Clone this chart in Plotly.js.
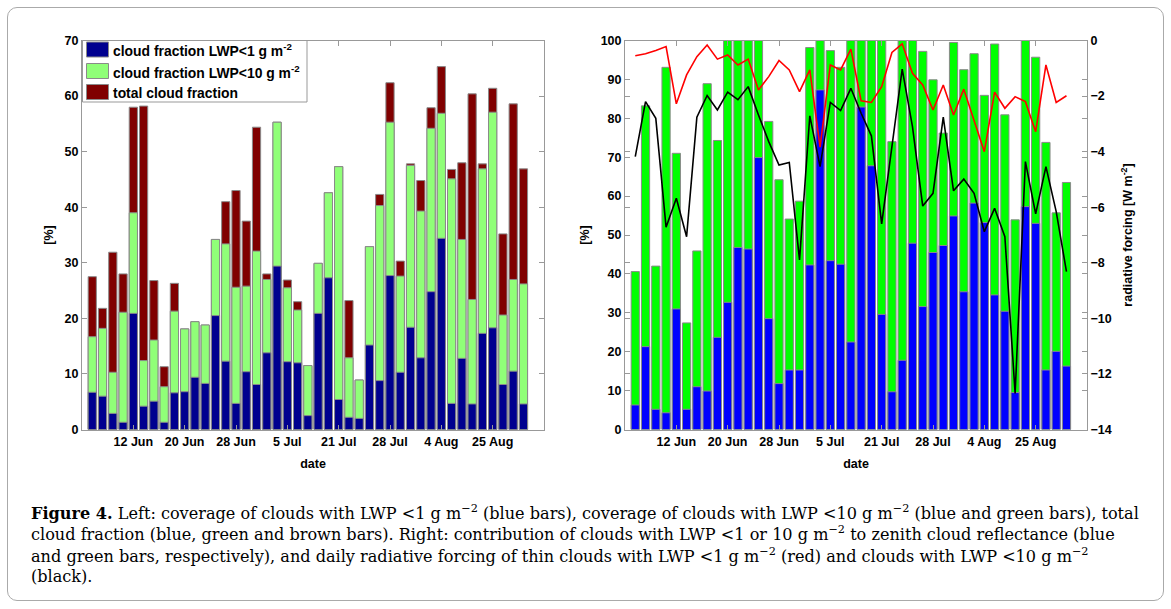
<!DOCTYPE html>
<html>
<head>
<meta charset="utf-8">
<script src="https://cdn.plot.ly/plotly-3.0.1.min.js"></script>
<style>
html,body{margin:0;padding:0;background:#fff;}
#wrap{position:relative;width:1171px;height:609px;overflow:hidden;}
#chart{position:absolute;left:0;top:0;width:1171px;height:609px;}
#frame{position:absolute;left:7px;top:7px;width:1155px;height:592px;border:1px solid #aaa;border-radius:10px;pointer-events:none;}
</style>
</head>
<body>
<div id="wrap"><div id="chart"></div><div id="frame"></div></div>
<script>
// ---- data (bar index 1..43, one per observation day) ----
const tickPos = [5, 10, 15, 20, 25, 30, 35, 40];
const tickLabels = ["12 Jun", "20 Jun", "28 Jun", "5 Jul", "21 Jul", "28 Jul", "4 Aug", "25 Aug"];

// Left panel: cloud fraction [%]
const leftBlue = [6.7,6.0,2.9,1.3,20.9,4.2,5.1,1.3,6.6,6.8,9.4,8.3,20.5,12.3,4.7,10.4,8.1,13.8,29.4,12.2,12.0,2.5,20.9,27.3,5.4,2.2,2.0,15.2,8.8,27.7,10.3,18.4,12.9,24.8,34.4,4.7,12.8,4.6,17.3,18.3,8.1,10.5,4.6];
const leftGreen = [16.7,18.2,10.3,21.1,39.0,12.4,16.1,7.7,21.3,18.1,19.4,18.8,34.2,33.4,25.6,25.8,32.1,27.0,55.3,25.5,21.5,11.5,29.9,42.6,47.3,12.9,8.9,32.9,40.3,55.3,27.6,47.5,39.3,54.2,56.9,45.1,34.2,23.4,46.9,57.1,20.6,27.0,26.2];
const leftTotal = [27.5,21.8,31.9,28.0,58.0,58.2,26.8,11.3,26.3,18.1,19.4,18.8,34.2,41.0,43.0,37.5,54.4,28.0,55.3,26.9,23.0,11.5,29.9,42.6,47.3,23.2,8.9,32.9,42.3,62.4,30.3,47.8,44.8,57.9,65.3,46.8,48.0,60.4,47.8,61.4,35.2,58.6,46.9];

// Right panel: contribution to zenith cloud reflectance [%]
const rightBlue = [6.3,21.3,5.2,4.3,31.0,5.2,11.0,9.9,23.7,32.7,46.8,46.4,69.9,28.5,11.8,15.3,15.3,42.3,87.3,43.4,42.5,22.5,82.9,67.8,29.6,9.7,17.8,47.9,31.6,45.5,47.3,54.9,35.4,58.2,53.2,34.6,30.4,9.5,57.3,53.0,15.3,20.1,16.3];
const rightGreen = [40.6,83.2,42.0,93.1,71.0,27.4,45.9,88.9,74.3,100,100,100,100,79.2,64.2,54.1,58.7,98.2,100,97.4,93.1,100,100,100,100,74.0,100,100,97.2,89.9,76.2,99.5,92.5,96.6,85.9,99.1,80.9,53.9,100,95.7,73.8,55.7,63.5];

// Right panel: daily radiative forcing [W m-2]
const forcingLWP1 = [-0.55,-0.48,-0.36,-0.22,-2.28,-1.24,-0.58,-0.16,-0.67,-0.52,-0.88,-0.67,-1.78,-1.3,-0.72,-1.06,-1.84,-1.06,-3.84,-0.88,-1.06,-0.31,-2.17,-2.23,-1.66,-0.43,-0.12,-1.18,-1.6,-2.5,-1.6,-2.68,-1.75,-2.86,-4.0,-1.86,-2.44,-2.02,-2.2,-3.28,-0.88,-2.23,-1.99];
const forcingLWP10 = [-4.18,-2.2,-2.8,-6.72,-5.68,-7.06,-2.76,-1.98,-2.5,-1.86,-2.13,-1.66,-2.68,-3.64,-4.48,-4.39,-7.9,-2.71,-4.54,-2.23,-2.52,-1.72,-2.62,-3.43,-6.6,-3.9,-1.03,-3.1,-5.96,-5.5,-2.76,-5.41,-4.99,-5.5,-6.88,-6.04,-7.06,-12.7,-4.36,-6.24,-4.54,-6.16,-8.32];

const legendNames = ["cloud fraction LWP&lt;1 g m<sup>-2</sup>", "cloud fraction LWP&lt;10 g m<sup>-2</sup>", "total cloud fraction"];
const leftColors = ["#00008F", "#90FF78", "#800000"];

const idx = leftBlue.map((_, i) => i + 1);

// ---- styling ----
const FONT = "Liberation Sans, Arial, sans-serif";
const SERIF = "DejaVu Serif, serif";
const edge = {color: "#8a8a8a", width: 1};
const W = 1171, H = 609;
const px = v => v / W;
const py = v => 1 - v / H;

const traces = [
  {type: "bar", x: idx, y: leftTotal, name: legendNames[2], marker: {color: leftColors[2], line: edge}, width: 0.8, xaxis: "x", yaxis: "y"},
  {type: "bar", x: idx, y: leftGreen, name: legendNames[1], marker: {color: leftColors[1], line: edge}, width: 0.8, xaxis: "x", yaxis: "y"},
  {type: "bar", x: idx, y: leftBlue, name: legendNames[0], marker: {color: leftColors[0], line: edge}, width: 0.8, xaxis: "x", yaxis: "y"},
  {type: "bar", x: idx, y: rightGreen, name: "LWP&lt;10 g m<sup>-2</sup>", marker: {color: "#00FF00", line: edge}, width: 0.8, xaxis: "x2", yaxis: "y2"},
  {type: "bar", x: idx, y: rightBlue, name: "LWP&lt;1 g m<sup>-2</sup>", marker: {color: "#0000FF", line: edge}, width: 0.8, xaxis: "x2", yaxis: "y2"},
  {type: "scatter", mode: "lines", x: idx, y: forcingLWP1, name: "forcing LWP&lt;1", line: {color: "#FF0000", width: 1.6}, xaxis: "x2", yaxis: "y3"},
  {type: "scatter", mode: "lines", x: idx, y: forcingLWP10, name: "forcing LWP&lt;10", line: {color: "#000000", width: 1.6}, xaxis: "x2", yaxis: "y3"}
];

const tickFont = {family: FONT, size: 12.5, color: "#000", weight: 700};
const titleFont = {family: FONT, size: 12.5, color: "#000", weight: 700};
const axCommon = {showline: true, linecolor: "#999", linewidth: 1, mirror: "ticks", ticks: "inside", ticklen: 5, tickcolor: "#999", showgrid: false, zeroline: false, tickfont: tickFont, fixedrange: true};
const yDom = [py(429.5), py(40.5)];

const xaxisBase = Object.assign({}, axCommon, {range: [0, 45], tickmode: "array", tickvals: tickPos, ticktext: tickLabels, title: {text: "date", font: titleFont, standoff: 11}});

// ---- caption ----
const captionLines = [
  "<b>Figure 4.</b> Left: coverage of clouds with LWP &lt;1 g m<sup>−2</sup> (blue bars), coverage of clouds with LWP &lt;10 g m<sup>−2</sup> (blue and green bars), total",
  "cloud fraction (blue, green and brown bars). Right: contribution of clouds with LWP &lt;1 or 10 g m<sup>−2</sup> to zenith cloud reflectance (blue",
  "and green bars, respectively), and daily radiative forcing of thin clouds with LWP &lt;1 g m<sup>−2</sup> (red) and clouds with LWP &lt;10 g m<sup>−2</sup>",
  "(black)."
];
const captionY = [512, 533.5, 555, 576.5];
const annotations = captionLines.map((t, i) => ({
  text: t, xref: "paper", yref: "paper", x: px(29), y: py(captionY[i]), xanchor: "left", yanchor: "middle",
  showarrow: false, align: "left", font: {family: SERIF, size: 16.1, color: "#000"}
}));

// ---- legend box for the left panel (Matlab style, large swatches) ----
const legRows = [49.5, 71, 92];
const shapes = [{type: "rect", xref: "paper", yref: "paper", x0: px(82.5), x1: px(307), y0: py(102), y1: py(40.5),
                 fillcolor: "#fff", line: {color: "#999", width: 1}, layer: "above"}];
legRows.forEach((r, i) => {
  shapes.push({type: "rect", xref: "paper", yref: "paper", x0: px(86.5), x1: px(108.5), y0: py(r + 7.5), y1: py(r - 7.5),
               fillcolor: leftColors[i], line: {color: "#8a8a8a", width: 1}, layer: "above"});
  annotations.push({text: legendNames[i], xref: "paper", yref: "paper", x: px(111), y: py(r + 1), xanchor: "left", yanchor: "middle",
                    showarrow: false, align: "left", font: {family: FONT, size: 13.9, color: "#000", weight: 700}});
});

const layout = {
  width: W, height: H,
  margin: {l: 0, r: 0, t: 0, b: 0},
  paper_bgcolor: "rgba(0,0,0,0)", plot_bgcolor: "#fff",
  barmode: "overlay",
  font: {family: FONT, color: "#000"},
  showlegend: false,
  xaxis: Object.assign({}, xaxisBase, {domain: [px(82), px(544)], anchor: "y"}),
  yaxis: Object.assign({}, axCommon, {domain: yDom, anchor: "x", range: [0, 70], dtick: 10, title: {text: "[%]", font: titleFont, standoff: 8}}),
  xaxis2: Object.assign({}, xaxisBase, {domain: [px(625), px(1087)], anchor: "y2"}),
  yaxis2: Object.assign({}, axCommon, {domain: yDom, anchor: "x2", range: [0, 100], dtick: 10, title: {text: "[%]", font: titleFont, standoff: 8}}),
  yaxis3: Object.assign({}, axCommon, {overlaying: "y2", side: "right", anchor: "x2", range: [-14, 0], dtick: 2,
           title: {text: "radiative forcing [W m<sup>-2</sup>]", font: titleFont, standoff: 12}}),
  shapes: shapes,
  annotations: annotations
};

Plotly.newPlot("chart", traces, layout, {displayModeBar: false, staticPlot: true});
</script>
</body>
</html>
